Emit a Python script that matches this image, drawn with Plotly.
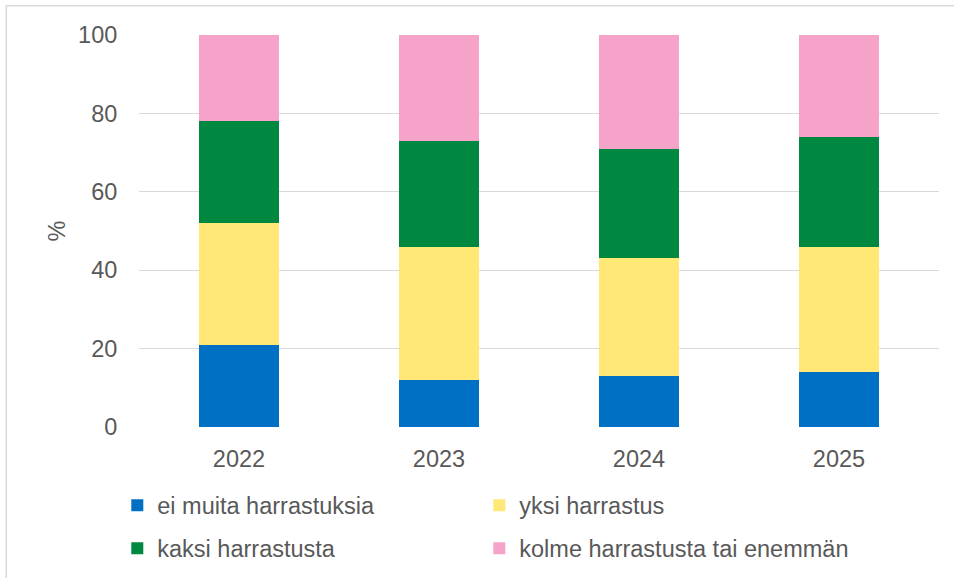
import plotly.graph_objects as go

years = ["2022", "2023", "2024", "2025"]
ei_muita = [21, 12, 13, 14]
yksi = [31, 34, 30, 32]
kaksi = [26, 27, 28, 28]
kolme = [22, 27, 29, 26]

series = [
    ("ei muita harrastuksia", ei_muita, "#0070C5", "legend"),
    ("yksi harrastus", yksi, "#FFE876", "legend2"),
    ("kaksi harrastusta", kaksi, "#008841", "legend3"),
    ("kolme harrastusta tai enemmän", kolme, "#F5A3C8", "legend4"),
]

FONT = "Liberation Sans, Arial, sans-serif"
TXT = "#595959"
FS = 23.5

fig = go.Figure()
for name, vals, col, lg in series:
    fig.add_trace(go.Bar(x=years, y=vals, name=name, marker_color=col,
                         marker_line_width=0, legend=lg))

W, H = 954, 578
L, R, T, B = 138.7, 15.3, 35.3, 151.3
pw = W - L - R
ph = H - T - B


def leg(px, py):
    return dict(orientation="h", x=(px - L) / pw, xanchor="left",
                y=(T + ph - py) / ph, yanchor="middle",
                font=dict(size=FS, color=TXT), bgcolor="rgba(0,0,0,0)")


fig.update_layout(
    width=W, height=H,
    barmode="stack", bargap=0.6,
    plot_bgcolor="white", paper_bgcolor="white",
    margin=dict(l=L, r=R, t=T, b=B, autoexpand=False),
    font=dict(family=FONT, size=FS, color=TXT),
    xaxis=dict(showgrid=False, showline=False, ticks="outside", ticklen=11,
               tickcolor="rgba(0,0,0,0)", tickfont=dict(size=FS, color=TXT)),
    yaxis=dict(range=[0, 100], dtick=20, showgrid=True, gridcolor="#D9D9D9",
               gridwidth=1.3, zeroline=False, showline=False, ticks="outside",
               ticklen=16, tickcolor="rgba(0,0,0,0)",
               tickfont=dict(size=FS, color=TXT),
               title=dict(text="%", standoff=5, font=dict(size=FS, color=TXT))),
    legend=leg(117, 505),
    legend2=leg(479, 505),
    legend3=leg(117, 548),
    legend4=leg(479, 548),
    showlegend=True,
)

# chart frame (top and left edges visible)
fig.add_shape(type="rect", xref="paper", yref="paper", layer="above",
              x0=(6 - L) / pw, x1=(W + 20 - L) / pw,
              y0=-(H + 20 - T - ph) / ph, y1=1 + (T - 6) / ph,
              line=dict(color="#D9D9D9", width=1.5), fillcolor="rgba(0,0,0,0)")

fig.write_html("out.html",
               config={"displayModeBar": False},
               post_script="document.body.style.margin='0';document.body.style.overflow='hidden';")
